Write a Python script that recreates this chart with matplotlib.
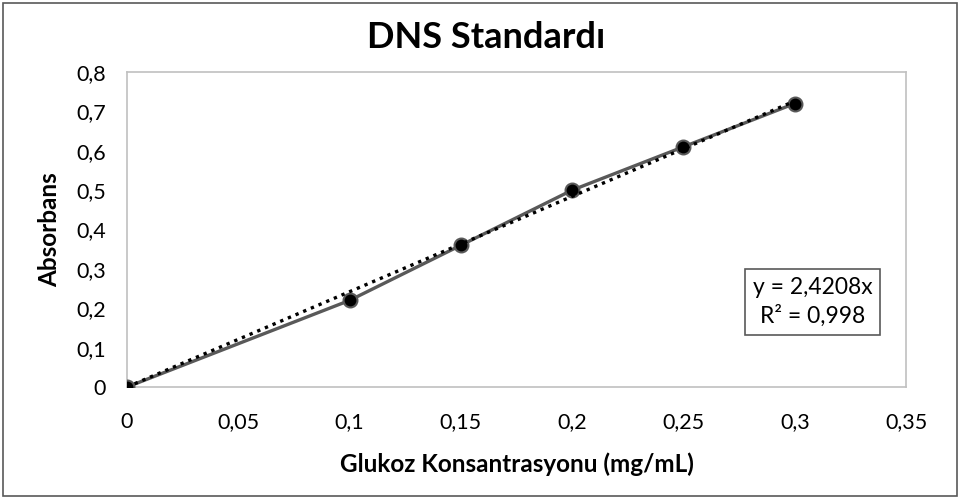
import matplotlib.pyplot as plt
import numpy as np
from matplotlib.patches import Rectangle
from matplotlib.ticker import FuncFormatter

plt.rcParams['font.family'] = ['Lato', 'DejaVu Sans']

konsantrasyon = [0, 0.1, 0.15, 0.2, 0.25, 0.3]
absorbans = [0, 0.22, 0.36, 0.50, 0.61, 0.72]
egim = 2.4208
r_kare = 0.998

x_ticks = [0, 0.05, 0.1, 0.15, 0.2, 0.25, 0.3, 0.35]
y_ticks = [0, 0.1, 0.2, 0.3, 0.4, 0.5, 0.6, 0.7, 0.8]


def virgul(v, _):
    s = f"{v:.2f}".rstrip("0").rstrip(".")
    return s.replace(".", ",")


fig = plt.figure(figsize=(9.6, 4.99), dpi=100)
ax = fig.add_axes([0.1323, 0.2244, 0.8115, 0.6313])

# outer chart border
fig.patches.append(Rectangle((0.003, 0.006), 0.994, 0.988, transform=fig.transFigure,
                             fill=False, edgecolor="#595959", linewidth=1.2))

ax.plot(konsantrasyon, absorbans, color="#595959", linewidth=2.4, zorder=3,
        marker="o", markersize=10, markerfacecolor="black",
        markeredgecolor="#595959", markeredgewidth=1.5)

xs = np.array([konsantrasyon[0], konsantrasyon[-1]])
ax.plot(xs, egim * xs, color="black", linestyle=(0, (1, 1.5)), linewidth=2.4, zorder=4)

ax.set_xlim(0, 0.35)
ax.set_ylim(0, 0.8)
ax.set_xticks(x_ticks)
ax.set_yticks(y_ticks)
ax.xaxis.set_major_formatter(FuncFormatter(virgul))
ax.yaxis.set_major_formatter(FuncFormatter(virgul))
ax.tick_params(length=0, labelsize=15.5)
ax.tick_params(axis="x", pad=18)
ax.tick_params(axis="y", pad=15)

for s in ax.spines.values():
    s.set_color("#c0c0c0")
    s.set_linewidth(1.2)

fig.text(0.506, 0.924, "DNS Standardı", ha="center", va="center",
         fontsize=26, fontweight="bold")
ax.set_xlabel("Glukoz Konsantrasyonu (mg/mL)", fontsize=17.5, fontweight="bold", labelpad=15)
ax.set_ylabel("Absorbans", fontsize=17.5, fontweight="bold", labelpad=11)

ax.text(0.880, 0.270, f"y = {egim:.4f}x".replace(".", ",") + "\n" +
        f"R² = {r_kare:.3f}".replace(".", ","),
        transform=ax.transAxes, ha="center", va="center", fontsize=16.5,
        linespacing=1.35,
        bbox=dict(boxstyle="square,pad=0.35", facecolor="white", edgecolor="#595959", linewidth=1.2))

fig.savefig("out.png", dpi=100)
